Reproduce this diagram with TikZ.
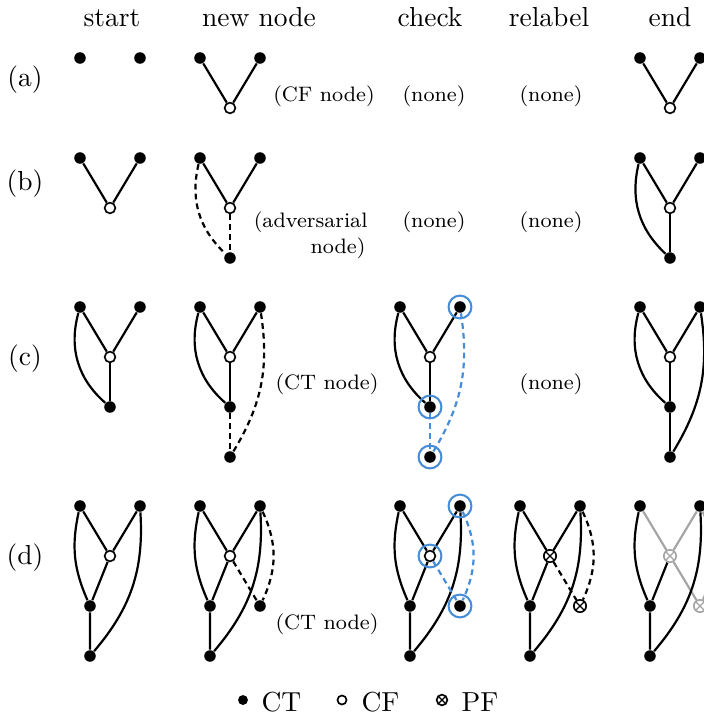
\documentclass[tikz,border=0pt]{standalone}
\usetikzlibrary{backgrounds}
\definecolor{ringblue}{RGB}{70,140,215}
\definecolor{lgray}{RGB}{165,165,165}
\begin{document}
\begin{tikzpicture}[x=0.363636pt,y=-0.363636pt,
  ct/.style={circle,fill=black,inner sep=0pt,minimum size=4.2pt},
  cf/.style={circle,draw=black,fill=white,line width=0.6pt,inner sep=0pt,minimum size=3.9pt},
  pf/.style={circle,draw=#1,fill=white,line width=0.6pt,inner sep=0pt,minimum size=4.5pt,
    path picture={\draw[#1,line width=0.5pt] (path picture bounding box.north west)--(path picture bounding box.south east)
      (path picture bounding box.north east)--(path picture bounding box.south west);}},
  pf/.default=black,
  ring/.style={circle,draw=ringblue,line width=0.75pt,inner sep=0pt,minimum size=8.3pt},
  eg/.style={line width=0.8pt},
  dsh/.style={eg,dash pattern=on 2.1pt off 1.5pt},
  bdsh/.style={dsh,draw=ringblue},
  geg/.style={eg,draw=lgray},
  hdr/.style={anchor=base,inner sep=0pt},
  lbl/.style={anchor=base,inner sep=0pt,font=\fontsize{7.6}{9.5}\selectfont},
  rlbl/.style={anchor=base,inner sep=0pt}
]
\useasboundingbox (0,0) rectangle (704,715);

% headers
\node[hdr] (h1) at (112,26) {start};
\node[hdr] (h2) at (259,26) {new node};
\node[hdr] (h3) at (430,26) {check};
\node[hdr] (h4) at (549,26) {relabel};
\node[hdr] (h5) at (670,26) {end};

% row labels
\node[rlbl] (ra) at (25,86) {(a)};
\node[rlbl] (rb) at (25,190) {(b)};
\node[rlbl] (rc) at (25,365) {(c)};
\node[rlbl] (rd) at (25,564) {(d)};

% ---------------- row (a)
\node[ct] (aSl) at (80,58) {};
\node[ct] (aSr) at (140,58) {};
\node[ct] (aNl) at (200,58) {};
\node[ct] (aNr) at (260,58) {};
\node[cf] (aNc) at (230,108) {};
\node[ct] (aEl) at (640,58) {};
\node[ct] (aEr) at (700,58) {};
\node[cf] (aEc) at (670,108) {};
\node[lbl] (aT1) at (324,101) {(CF node)};
\node[lbl] (aT2) at (434,101) {(none)};
\node[lbl] (aT3) at (551,101) {(none)};

% ---------------- row (b)
\node[ct] (bSl) at (80,158) {};
\node[ct] (bSr) at (140,158) {};
\node[cf] (bSc) at (110,208) {};
\node[ct] (bNl) at (200,158) {};
\node[ct] (bNr) at (260,158) {};
\node[cf] (bNc) at (230,208) {};
\node[ct] (bNb) at (230,258) {};
\node[ct] (bEl) at (640,158) {};
\node[ct] (bEr) at (700,158) {};
\node[cf] (bEc) at (670,208) {};
\node[ct] (bEb) at (670,258) {};
\node[lbl,anchor=base east] (bT1) at (368,227) {(adversarial};
\node[lbl,anchor=base east] (bT1b) at (366,253) {node)};
\node[lbl] (bT2) at (434,227) {(none)};
\node[lbl] (bT3) at (551,227) {(none)};

% ---------------- row (c)
\node[ct] (cSl) at (80,307) {};
\node[ct] (cSr) at (140,307) {};
\node[cf] (cSc) at (110,357) {};
\node[ct] (cSm) at (110,407) {};
\node[ct] (cNl) at (200,307) {};
\node[ct] (cNr) at (260,307) {};
\node[cf] (cNc) at (230,357) {};
\node[ct] (cNm) at (230,407) {};
\node[ct] (cNb) at (230,457) {};
\node[ct] (cKl) at (400,307) {};
\node[ct] (cKr) at (460,307) {};
\node[cf] (cKc) at (430,357) {};
\node[ct] (cKm) at (430,407) {};
\node[ct] (cKb) at (430,457) {};
\node[ring] (cRr) at (460,307) {};
\node[ring] (cRm) at (430,407) {};
\node[ring] (cRb) at (430,457) {};
\node[ct] (cEl) at (640,307) {};
\node[ct] (cEr) at (700,307) {};
\node[cf] (cEc) at (670,357) {};
\node[ct] (cEm) at (670,407) {};
\node[ct] (cEb) at (670,457) {};
\node[lbl] (cT1) at (327,389) {(CT node)};
\node[lbl] (cT3) at (551,389) {(none)};

% ---------------- row (d)
\node[ct] (dSl) at (80,506) {};
\node[ct] (dSr) at (140,506) {};
\node[cf] (dSc) at (110,556) {};
\node[ct] (dSm) at (90,606) {};
\node[ct] (dSb) at (90,656) {};
\node[ct] (dNl) at (200,506) {};
\node[ct] (dNr) at (260,506) {};
\node[cf] (dNc) at (230,556) {};
\node[ct] (dNm) at (210,606) {};
\node[ct] (dNb) at (210,656) {};
\node[ct] (dNn) at (260,606) {};
\node[ct] (dKl) at (400,506) {};
\node[ct] (dKr) at (460,506) {};
\node[cf] (dKc) at (430,556) {};
\node[ct] (dKm) at (410,606) {};
\node[ct] (dKb) at (410,656) {};
\node[ct] (dKn) at (460,606) {};
\node[ring] (dRr) at (460,506) {};
\node[ring] (dRc) at (430,556) {};
\node[ring] (dRn) at (460,606) {};
\node[ct] (dLl) at (520,506) {};
\node[ct] (dLr) at (580,506) {};
\node[pf] (dLc) at (550,556) {};
\node[ct] (dLm) at (530,606) {};
\node[ct] (dLb) at (530,656) {};
\node[pf] (dLn) at (580,606) {};
\node[ct] (dEl) at (640,506) {};
\node[ct] (dEr) at (700,506) {};
\node[pf=lgray] (dEc) at (670,556) {};
\node[ct] (dEm) at (650,606) {};
\node[ct] (dEb) at (650,656) {};
\node[pf=lgray] (dEn) at (700,606) {};
\node[lbl] (dT1) at (327,629) {(CT node)};

% legend
\node[ct,minimum size=3.6pt] (l1) at (243,700) {};
\node[anchor=base west,inner sep=0pt] (l1t) at (261,711) {CT};
\node[cf,minimum size=3.3pt] (l2) at (342,700) {};
\node[anchor=base west,inner sep=0pt] (l2t) at (361,711) {CF};
\node[pf,minimum size=3.9pt] (l3) at (442,700) {};
\node[anchor=base west,inner sep=0pt] (l3t) at (461,711) {PF};

\begin{scope}[on background layer]
% row a
\draw[eg] (aNl) -- (aNc) -- (aNr);
\draw[eg] (aEl) -- (aEc) -- (aEr);
% row b
\draw[eg] (bSl) -- (bSc) -- (bSr);
\draw[eg] (bNl) -- (bNc) -- (bNr);
\draw[dsh] (bNl) to[bend right=30] (bNb);
\draw[dsh] (bNc) -- (bNb);
\draw[eg] (bEl) -- (bEc) -- (bEr);
\draw[eg] (bEl) to[bend right=30] (bEb);
\draw[eg] (bEc) -- (bEb);
% row c
\draw[eg] (cSl) -- (cSc) -- (cSr);
\draw[eg] (cSl) to[bend right=32] (cSm);
\draw[eg] (cSc) -- (cSm);
\draw[eg] (cNl) -- (cNc) -- (cNr);
\draw[eg] (cNl) to[bend right=32] (cNm);
\draw[eg] (cNc) -- (cNm);
\draw[dsh] (cNm) -- (cNb);
\draw[dsh] (cNr) to[bend left=20] (cNb);
\draw[eg] (cKl) -- (cKc) -- (cKr);
\draw[eg] (cKl) to[bend right=32] (cKm);
\draw[eg] (cKc) -- (cKm);
\draw[bdsh] (cKm) -- (cKb);
\draw[bdsh] (cKr) to[bend left=20] (cKb);
\draw[eg] (cEl) -- (cEc) -- (cEr);
\draw[eg] (cEl) to[bend right=32] (cEm);
\draw[eg] (cEc) -- (cEm);
\draw[eg] (cEm) -- (cEb);
\draw[eg] (cEr) to[bend left=20] (cEb);
% row d
\draw[eg] (dSl) -- (dSc) -- (dSr);
\draw[eg] (dSl) to[bend right=18] (dSm);
\draw[eg] (dSc) -- (dSm) -- (dSb);
\draw[eg] (dSr) to[bend left=22] (dSb);
\draw[eg] (dNl) -- (dNc) -- (dNr);
\draw[eg] (dNl) to[bend right=18] (dNm);
\draw[eg] (dNc) -- (dNm) -- (dNb);
\draw[eg] (dNr) to[bend left=22] (dNb);
\draw[dsh] (dNc) -- (dNn);
\draw[dsh] (dNr) to[bend left=25] (dNn);
\draw[eg] (dKl) -- (dKc) -- (dKr);
\draw[eg] (dKl) to[bend right=18] (dKm);
\draw[eg] (dKc) -- (dKm) -- (dKb);
\draw[eg] (dKr) to[bend left=22] (dKb);
\draw[bdsh] (dKc) -- (dKn);
\draw[bdsh] (dKr) to[bend left=25] (dKn);
\draw[eg] (dLl) -- (dLc) -- (dLr);
\draw[eg] (dLl) to[bend right=18] (dLm);
\draw[eg] (dLc) -- (dLm) -- (dLb);
\draw[eg] (dLr) to[bend left=22] (dLb);
\draw[dsh] (dLc) -- (dLn);
\draw[dsh] (dLr) to[bend left=25] (dLn);
\draw[geg] (dEl) -- (dEc) -- (dEr);
\draw[geg] (dEc) -- (dEn);
\draw[geg] (dEr) to[bend left=25] (dEn);
\draw[eg] (dEl) to[bend right=18] (dEm);
\draw[eg] (dEc) -- (dEm) -- (dEb);
\draw[eg] (dEr) to[bend left=22] (dEb);
\end{scope}
\end{tikzpicture}
\end{document}
